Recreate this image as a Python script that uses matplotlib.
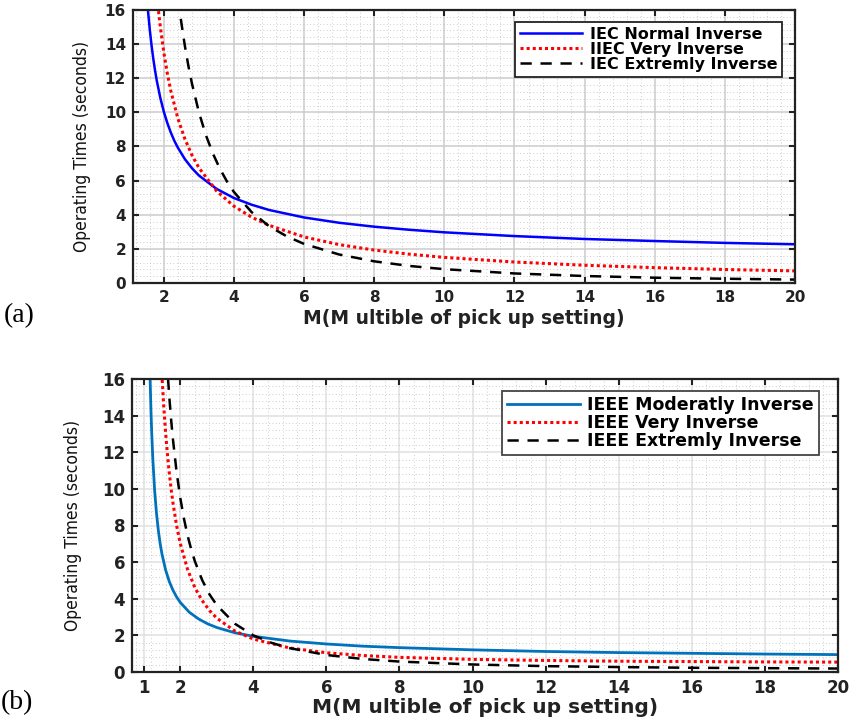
import matplotlib
matplotlib.use("Agg")
import matplotlib.pyplot as plt
import matplotlib.ticker as mticker

# ── data ──────────────────────────────────────────────────────────────────────
# (a) IEC curves
M_NI = [1.5, 1.55, 1.6, 1.65, 1.7, 1.75, 1.8, 1.9, 2.0, 2.1, 2.2, 2.3, 2.4, 2.6,
        2.8, 3.0, 3.5, 4, 4.5, 5, 6, 7, 8, 9, 10, 12, 14, 16, 18, 20]
T_NI = [17.19, 15.90, 14.82, 13.91, 13.12, 12.44, 11.84, 10.84, 10.03, 9.37, 8.81,
        8.33, 7.93, 7.26, 6.73, 6.30, 5.52, 4.98, 4.59, 4.28, 3.84, 3.53, 3.30,
        3.12, 2.97, 2.75, 2.58, 2.46, 2.35, 2.27]

M_VI = [1.8, 1.85, 1.9, 2.0, 2.1, 2.2, 2.4, 2.6, 2.8, 3.0, 3.5, 4, 4.5, 5, 6, 7,
        8, 9, 10, 12, 14, 16, 18, 20]
T_VI = [16.88, 15.88, 15.0, 13.5, 12.27, 11.25, 9.64, 8.44, 7.5, 6.75, 5.4, 4.5,
        3.86, 3.38, 2.7, 2.25, 1.93, 1.69, 1.5, 1.23, 1.04, 0.90, 0.79, 0.71]

M_EI = [2.4, 2.45, 2.5, 2.6, 2.7, 2.8, 3.0, 3.2, 3.4, 3.6, 3.8, 4.0, 4.5, 5, 5.5,
        6, 7, 8, 9, 10, 12, 14, 16, 18, 20]
T_EI = [16.81, 15.99, 15.24, 13.89, 12.72, 11.70, 10.0, 8.66, 7.58, 6.69, 5.95,
        5.33, 4.16, 3.33, 2.74, 2.29, 1.67, 1.27, 1.0, 0.81, 0.56, 0.41, 0.31,
        0.25, 0.20]

# (b) IEEE curves
M_MI = [1.15, 1.17, 1.18, 1.2, 1.22, 1.25, 1.3, 1.35, 1.4, 1.45, 1.5, 1.6, 1.7,
        1.8, 1.9, 2.0, 2.25, 2.5, 2.75, 3, 3.5, 4, 5, 6, 7, 8, 10, 12, 14, 16,
        18, 20]
T_MI = [18.51, 16.49, 15.65, 14.21, 13.04, 11.63, 9.90, 8.67, 7.74, 7.02, 6.44,
        5.57, 4.94, 4.47, 4.10, 3.80, 3.26, 2.90, 2.63, 2.43, 2.14, 1.95, 1.69,
        1.53, 1.41, 1.33, 1.21, 1.12, 1.06, 1.02, 0.98, 0.95]

M_VIb = [1.45, 1.5, 1.55, 1.6, 1.65, 1.7, 1.75, 1.8, 1.9, 2.0, 2.2, 2.4, 2.6, 2.8,
         3.0, 3.5, 4, 5, 6, 7, 8, 10, 12, 14, 16, 18, 20]
T_VIb = [18.28, 16.18, 14.47, 13.06, 11.88, 10.87, 10.0, 9.25, 8.00, 7.03, 5.60,
         4.61, 3.90, 3.36, 2.94, 2.23, 1.80, 1.31, 1.05, 0.90, 0.80, 0.69, 0.63,
         0.59, 0.57, 0.55, 0.54]

M_EIb = [1.6, 1.65, 1.7, 1.75, 1.8, 1.9, 2.0, 2.1, 2.2, 2.3, 2.4, 2.6, 2.8, 3.0,
         3.5, 4, 4.5, 5, 6, 7, 8, 10, 12, 14, 16, 18, 20]
T_EIb = [18.20, 16.49, 15.04, 13.79, 12.71, 10.93, 9.52, 8.39, 7.46, 6.70, 6.05,
         5.02, 4.24, 3.65, 2.63, 2.00, 1.59, 1.30, 0.93, 0.71, 0.57, 0.41, 0.32,
         0.27, 0.23, 0.21, 0.19]

LABELS_A = ["IEC Normal Inverse", "IIEC Very Inverse", "IEC Extremly Inverse"]
LABELS_B = ["IEEE Moderatly Inverse", "IEEE Very Inverse", "IEEE Extremly Inverse"]
XTICKS_A = [2, 4, 6, 8, 10, 12, 14, 16, 18, 20]
XTICKS_B = [1, 2, 4, 6, 8, 10, 12, 14, 16, 18, 20]
YTICKS = [0, 2, 4, 6, 8, 10, 12, 14, 16]

XLABEL = "M(M ultible of pick up setting)"
YLABEL = "Operating Times (seconds)"

DOTTED = (0, (1, 1))
DASHED = (0, (4.5, 3.5))

fig = plt.figure(figsize=(8.53, 7.22), dpi=100)
W, H = 853, 722


def px_axes(l, t, r, b):
    return fig.add_axes([l / W, 1 - b / H, (r - l) / W, (b - t) / H])


def style(ax, xlim, xticks, fs, grid_c):
    ax.set_xlim(*xlim)
    ax.set_ylim(0, 16)
    ax.set_xticks(xticks)
    ax.set_yticks(YTICKS)
    ax.xaxis.set_minor_locator(mticker.MultipleLocator(0.4))
    ax.yaxis.set_minor_locator(mticker.MultipleLocator(0.4))
    ax.set_axisbelow(True)
    ax.grid(which="major", color=grid_c, lw=1.1)
    ax.grid(which="minor", color="#bdbdbd", lw=0.6, ls=(0, (1, 3)))
    ax.tick_params(which="major", direction="in", length=4, width=1.5,
                   top=True, right=True, labelsize=fs, pad=5, color="#222222")
    ax.tick_params(which="minor", length=0)
    for lab in ax.get_xticklabels() + ax.get_yticklabels():
        lab.set_fontweight("bold")
        lab.set_color("#222222")
    for sp in ax.spines.values():
        sp.set_linewidth(1.6)
        sp.set_color("#222222")


# ── (a) ───────────────────────────────────────────────────────────────────────
ax1 = px_axes(133, 10, 795, 283)
ax1.plot(M_NI, T_NI, color="#0000FF", lw=1.8, label=LABELS_A[0])
ax1.plot(M_VI, T_VI, color="#FF0000", lw=2.2, ls=DOTTED, label=LABELS_A[1])
ax1.plot(M_EI, T_EI, color="black", lw=1.8, ls=DASHED, label=LABELS_A[2])
style(ax1, (1.12, 20), XTICKS_A, 11, "#cccccc")
ax1.set_xlabel(XLABEL, fontsize=13.5, fontweight="bold", color="#222222")
ax1.xaxis.set_label_coords(0.5, -0.097)
ax1.set_ylabel(YLABEL, fontsize=12.5, family="DejaVu Sans", fontstretch="condensed",
               color="#111111")
ax1.yaxis.set_label_coords(-0.063, 0.5)
leg1 = ax1.legend(loc="upper right", bbox_to_anchor=((782 - 133) / 662, 1 - 12 / 273),
                  borderaxespad=0, fancybox=False, framealpha=1, edgecolor="#222222",
                  prop={"weight": "bold", "size": 11.5}, handlelength=3.9,
                  handletextpad=0.45, labelspacing=0.0, borderpad=0.3)
leg1.get_frame().set_linewidth(1.3)

# ── (b) ───────────────────────────────────────────────────────────────────────
ax2 = px_axes(132, 379, 838, 672)
ax2.plot(M_MI, T_MI, color="#0072BD", lw=2.0, label=LABELS_B[0])
ax2.plot(M_VIb, T_VIb, color="#FF0000", lw=2.2, ls=DOTTED, label=LABELS_B[1])
ax2.plot(M_EIb, T_EIb, color="black", lw=1.8, ls=DASHED, label=LABELS_B[2])
style(ax2, (0.68, 20), XTICKS_B, 12, "#e0e0e0")
ax2.set_xlabel(XLABEL, fontsize=14.5, fontweight="bold", color="#222222")
ax2.xaxis.set_label_coords(0.5, -0.088)
ax2.set_ylabel(YLABEL, fontsize=12.5, family="DejaVu Sans", fontstretch="condensed",
               color="#111111")
ax2.yaxis.set_label_coords(-0.071, 0.5)
leg2 = ax2.legend(loc="upper right", bbox_to_anchor=((819 - 132) / 706, 1 - 12 / 293),
                  borderaxespad=0, fancybox=False, framealpha=1, edgecolor="#444444",
                  prop={"weight": "bold", "size": 12.5}, handlelength=4.2,
                  handletextpad=0.4, labelspacing=0.0, borderpad=0.3)
leg2.get_frame().set_linewidth(1.3)

# panel letters
fig.text(4 / W, 1 - 316 / H, "(a)", family="Liberation Serif", fontsize=20,
         ha="left", va="center")
fig.text(1 / W, 1 - 703 / H, "(b)", family="Liberation Serif", fontsize=20,
         ha="left", va="center")

fig.savefig("out.png", dpi=100)
